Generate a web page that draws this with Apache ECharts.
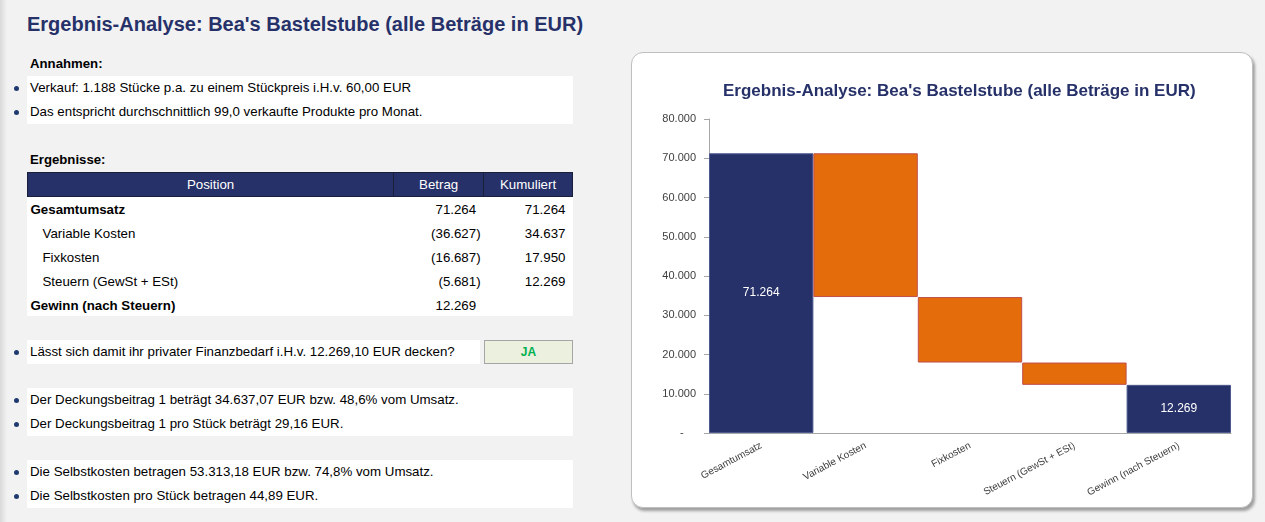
<!DOCTYPE html>
<html><head><meta charset="utf-8">
<script src="https://cdn.jsdelivr.net/npm/echarts@6/dist/echarts.min.js"></script>
<style>
html,body{margin:0;padding:0;}
body{width:1265px;height:522px;background:#f2f2f2;position:relative;overflow:hidden;font-family:"Liberation Sans",Arial,sans-serif;color:#000;}
.abs{position:absolute;}
.title{left:27px;top:11px;font-size:20px;font-weight:bold;color:#263169;white-space:nowrap;line-height:26px;}
.hdr{left:30px;font-size:13.2px;font-weight:bold;line-height:16px;}
.box{background:#fff;}
.line{position:absolute;left:3px;font-size:13.3px;line-height:24px;white-space:nowrap;}
.bul{position:absolute;left:14px;width:5px;height:5px;border-radius:50%;background:#1f3a6e;}
table{border-collapse:collapse;font-size:13.3px;}
th{background:#263169;color:#fff;font-weight:normal;height:23px;border:1px solid #1a1f3a;padding:0;}
td{height:24px;padding:0;white-space:nowrap;}
#panel{left:631px;top:52px;width:620px;height:454px;background:#fff;border:1px solid #bfbfbf;border-radius:12px;box-shadow:2px 3px 3px rgba(0,0,0,0.35);}
#chart{position:absolute;left:0;top:0;width:620px;height:454px;}
.ja{left:484px;top:340px;width:87px;height:22px;background:#ebf1de;border:1px solid #a6a6a6;color:#00b050;font-weight:bold;font-size:12px;text-align:center;line-height:22px;}
.edge{left:0;top:0;width:7px;height:522px;background:linear-gradient(to right,#d9d9d9,#f2f2f2);}
</style></head>
<body>
<div class="abs edge"></div>
<div class="abs title">Ergebnis-Analyse: Bea's Bastelstube (alle Beträge in EUR)</div>
<div class="abs hdr" style="top:56px">Annahmen:</div>
<div class="abs box" style="left:27px;top:76px;width:546px;height:48px">
  <div class="line" style="top:0">Verkauf: 1.188 Stücke p.a. zu einem Stückpreis i.H.v. 60,00 EUR</div>
  <div class="line" style="top:24px">Das entspricht durchschnittlich 99,0 verkaufte Produkte pro Monat.</div>
</div>
<div class="bul" style="top:86px"></div><div class="bul" style="top:110px"></div>

<div class="abs hdr" style="top:152px">Ergebnisse:</div>
<div class="abs box" style="left:27px;top:172px;width:546px;height:144px">
<table id="tbl" style="width:546px">
<colgroup><col style="width:367px"><col style="width:90px"><col style="width:89px"></colgroup>
<thead><tr><th>Position</th><th>Betrag</th><th>Kumuliert</th></tr></thead>
<tbody id="tbody"></tbody>
</table>
</div>

<div class="abs box" style="left:27px;top:340px;width:453px;height:24px">
  <div class="line" style="top:0">Lässt sich damit ihr privater Finanzbedarf i.H.v. 12.269,10 EUR decken?</div>
</div>
<div class="bul" style="top:350px"></div>
<div class="abs ja">JA</div>

<div class="abs box" style="left:27px;top:388px;width:546px;height:48px">
  <div class="line" style="top:0">Der Deckungsbeitrag 1 beträgt 34.637,07 EUR bzw. 48,6% vom Umsatz.</div>
  <div class="line" style="top:24px">Der Deckungsbeitrag 1 pro Stück beträgt 29,16 EUR.</div>
</div>
<div class="bul" style="top:398px"></div><div class="bul" style="top:422px"></div>

<div class="abs box" style="left:27px;top:460px;width:546px;height:48px">
  <div class="line" style="top:0">Die Selbstkosten betragen 53.313,18 EUR bzw. 74,8% vom Umsatz.</div>
  <div class="line" style="top:24px">Die Selbstkosten pro Stück betragen 44,89 EUR.</div>
</div>
<div class="bul" style="top:470px"></div><div class="bul" style="top:494px"></div>

<div class="abs" id="panel"><div id="chart"></div></div>

<script>
// ---- data ----
const chartTitle = "Ergebnis-Analyse: Bea's Bastelstube (alle Beträge in EUR)";
const categories = ['Gesamtumsatz', 'Variable Kosten', 'Fixkosten', 'Steuern (GewSt + ESt)', 'Gewinn (nach Steuern)'];
const betrag = [71264, -36627, -16687, -5681, 12269];
const kumuliert = [71264, 34637, 17950, 12269, null];
const rowBold = [true, false, false, false, true];
const baseValues = [0, 34637, 17950, 12269, 0];
const totalValues = [71264, '-', '-', '-', 12269];
const costValues = ['-', 36627, 16687, 5681, '-'];
const yMin = 0, yMax = 80000, yInterval = 10000;

function fmt(v) {
  const s = Math.abs(v).toString().replace(/\B(?=(\d{3})+(?!\d))/g, '.');
  return v < 0 ? '(' + s + ')' : s;
}

// ---- table ----
const tb = document.getElementById('tbody');
categories.forEach((c, i) => {
  const tr = document.createElement('tr');
  const b = betrag[i];
  const bTxt = b < 0 ? fmt(b) : fmt(b) + '<span style="visibility:hidden">)</span>';
  tr.innerHTML =
    '<td style="padding-left:' + (rowBold[i] ? 3 : 15) + 'px;' + (rowBold[i] ? 'font-weight:bold;' : '') + '">' + c + '</td>' +
    '<td style="text-align:right;padding-right:3px">' + bTxt + '</td>' +
    '<td style="text-align:right;padding-right:7px">' + (kumuliert[i] == null ? '' : fmt(kumuliert[i])) + '</td>';
  tb.appendChild(tr);
});

// ---- chart ----
const chart = echarts.init(document.getElementById('chart'), null, {renderer: 'canvas'});
const navy = '#263169', orange = '#e46c0a';
chart.setOption({
  animation: false,
  title: {
    text: chartTitle, left: 86, top: 25,
    textStyle: {fontFamily: 'Liberation Sans', fontSize: 17, fontWeight: 'bold', color: navy}
  },
  grid: {left: 77, right: 21, top: 66, bottom: 74},
  xAxis: {
    type: 'category', data: categories,
    axisLine: {lineStyle: {color: '#a6a6a6'}},
    axisTick: {lineStyle: {color: '#a6a6a6'}, length: 5},
    axisLabel: {rotate: 28, fontSize: 10, color: '#404040', fontFamily: 'Liberation Sans', margin: 12, interval: 0}
  },
  yAxis: {
    type: 'value', min: yMin, max: yMax, interval: yInterval,
    axisLine: {show: true, lineStyle: {color: '#a6a6a6'}},
    axisTick: {show: true, lineStyle: {color: '#a6a6a6'}, length: 5},
    splitLine: {show: false},
    axisLabel: {
      fontSize: 11, color: '#404040', fontFamily: 'Liberation Sans', margin: 13,
      formatter: v => v === 0 ? '-    ' : fmt(v)
    }
  },
  series: [
    {type: 'bar', stack: 'w', data: baseValues, barCategoryGap: '0%',
     itemStyle: {color: 'transparent'}, silent: true},
    {type: 'bar', stack: 'w', data: totalValues, barCategoryGap: '0%',
     itemStyle: {color: navy, borderColor: '#4d5a8f', borderWidth: 1},
     label: {show: true, position: 'inside', color: '#fff', fontSize: 12, fontFamily: 'Liberation Sans',
             formatter: p => fmt(p.value)}},
    {type: 'bar', stack: 'w', data: costValues, barCategoryGap: '0%',
     itemStyle: {color: orange, borderColor: '#c0504d', borderWidth: 1}}
  ]
});
</script>
</body></html>
